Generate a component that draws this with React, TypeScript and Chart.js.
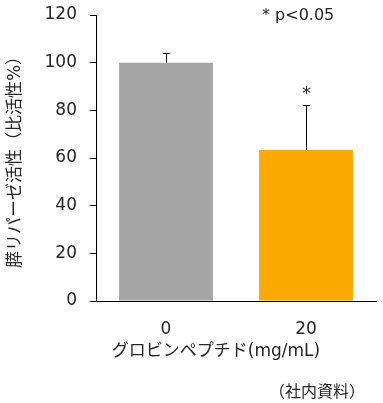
import React, { useEffect, useRef } from "react";
import { Chart, registerables } from "chart.js";

Chart.register(...registerables);

const categories = ["0", "20"];
const values = [100, 63.4];
const errors = [4.0, 18.7];
const barColors = ["#A6A6A6", "#FBA800"];
const significance = ["", "*"];
const yTitle = "膵リパーゼ活性（比活性%）";
const xTitle = "グロビンペプチド(mg/mL)";
const noteText = "* p<0.05";
const sourceText = "（社内資料）";

const FONT = "'DejaVu Sans', 'Noto Sans CJK JP', sans-serif";
const TEXT = "#262626";

export default function App() {
  const ref = useRef<HTMLCanvasElement | null>(null);

  useEffect(() => {
    document.body.style.margin = "0";
    const canvas = ref.current;
    if (!canvas) return;

    const overlay = {
      id: "overlay",
      afterDatasetsDraw(chart: any) {
        const ctx = chart.ctx;
        const meta = chart.getDatasetMeta(0);
        const y = chart.scales.y;
        const x = chart.scales.x;
        ctx.save();
        ctx.strokeStyle = "#000";
        ctx.lineWidth = 1;
        meta.data.forEach((bar: any, i: number) => {
          const cx = Math.round(bar.x) + 0.5;
          const y0 = y.getPixelForValue(values[i]);
          const y1 = Math.round(y.getPixelForValue(values[i] + errors[i])) + 0.5;
          ctx.beginPath();
          ctx.moveTo(cx, y0);
          ctx.lineTo(cx, y1);
          ctx.moveTo(cx - 3.5, y1);
          ctx.lineTo(cx + 3.5, y1);
          ctx.stroke();
          if (significance[i]) {
            ctx.fillStyle = TEXT;
            ctx.font = `18px ${FONT}`;
            ctx.textAlign = "center";
            ctx.textBaseline = "middle";
            ctx.fillText(significance[i], cx, y1 - 11);
          }
        });
        ctx.fillStyle = TEXT;
        ctx.font = `16px ${FONT}`;
        ctx.textAlign = "left";
        ctx.textBaseline = "middle";
        ctx.fillText(noteText, 262, 16);

        ctx.font = `17px ${FONT}`;
        ctx.textAlign = "center";
        ctx.fillText(xTitle, x.left + 120, 352);

        ctx.font = `16px ${FONT}`;
        ctx.textAlign = "center";
        ctx.fillText(sourceText, 317, 393);
        ctx.restore();
      },
    };

    const chart = new Chart(canvas, {
      type: "bar",
      data: {
        labels: categories,
        datasets: [
          {
            data: values,
            backgroundColor: barColors,
            borderWidth: 0,
            categoryPercentage: 1,
            barPercentage: 0.67,
          },
        ],
      },
      options: {
        responsive: false,
        animation: false,
        layout: { padding: { left: 0, right: 7, top: 15, bottom: 0 } },
        plugins: {
          legend: { display: false },
          tooltip: { enabled: false },
        },
        scales: {
          x: {
            grid: { display: false, drawTicks: false },
            border: { display: true, color: "#000", width: 1 },
            ticks: { color: TEXT, font: { family: FONT, size: 17 }, padding: 18 },
            afterFit(scale: any) {
              scale.height = 102;
            },
          },
          y: {
            min: 0,
            max: 120,
            ticks: {
              stepSize: 20,
              color: TEXT,
              font: { family: FONT, size: 17 },
              padding: 13,
            },
            grid: {
              drawOnChartArea: false,
              drawTicks: true,
              tickLength: 6,
              color: "#000",
            },
            border: { display: true, color: "#000", width: 1 },
            title: {
              display: true,
              text: yTitle,
              color: TEXT,
              font: { family: FONT, size: 17 },
              padding: { top: 5, bottom: 4 },
            },
            afterFit(scale: any) {
              scale.width = 96;
              scale.paddingTop = 0;
              scale.paddingBottom = 0;
            },
          },
        },
      },
      plugins: [overlay],
    });

    return () => chart.destroy();
  }, []);

  return <canvas ref={ref} width={383} height={403} style={{ display: "block" }} />;
}
